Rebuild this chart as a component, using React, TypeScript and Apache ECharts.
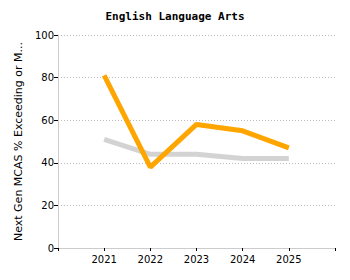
import React, { useEffect, useRef } from "react";
import * as echarts from "echarts";

const years = ["", "2021", "2022", "2023", "2024", "2025", ""];
const schoolValues = [null, 81, 38, 58, 55, 47, null];
const stateValues = [null, 51, 44, 44, 42, 42, null];
const yTicks = [0, 20, 40, 60, 80, 100];

export default function App() {
  const ref = useRef<HTMLDivElement>(null);
  useEffect(() => {
    const chart = echarts.init(ref.current!, null, { renderer: "svg" });
    chart.setOption({
      animation: false,
      title: {
        text: "English Language Arts",
        left: "center",
        top: 6,
        textStyle: { fontFamily: "DejaVu Sans Mono", fontSize: 11, fontWeight: "bold", color: "#000" },
      },
      grid: { left: 58, right: 15, top: 35, bottom: 32 },
      xAxis: {
        type: "category",
        data: years,
        boundaryGap: false,
        axisLine: { lineStyle: { color: "#ccc", width: 1 } },
        axisTick: { show: true, length: 3, lineStyle: { color: "#000" } },
        axisLabel: { fontFamily: "DejaVu Sans", fontSize: 10, color: "#000", margin: 6, interval: 0 },
        splitLine: { show: false },
      },
      yAxis: {
        type: "value",
        min: yTicks[0],
        max: yTicks[yTicks.length - 1],
        interval: 20,
        name: "Next Gen MCAS % Exceeding or Meeting",
        nameLocation: "middle",
        nameGap: 31,
        nameTextStyle: { fontFamily: "DejaVu Sans", fontSize: 11, color: "#000" },
        nameTruncate: { maxWidth: 203, ellipsis: "..." },
        axisLine: { show: true, lineStyle: { color: "#ccc" } },
        axisTick: { show: true, length: 4, lineStyle: { color: "#000" } },
        axisLabel: { fontFamily: "DejaVu Sans", fontSize: 10, color: "#000", margin: 4 },
        splitLine: { show: true, lineStyle: { color: "#bbb", type: [1, 2], width: 1 } },
      },
      series: [
        {
          type: "line",
          data: stateValues,
          showSymbol: false,
          symbol: "none",
          lineStyle: { color: "#d3d3d3", width: 5 },
          z: 1,
        },
        {
          type: "line",
          data: schoolValues,
          showSymbol: false,
          symbol: "none",
          lineStyle: { color: "#FFA500", width: 5 },
          z: 2,
        },
      ],
    });
    return () => chart.dispose();
  }, []);
  return <div ref={ref} style={{ width: 350, height: 280, margin: -8 }} />;
}
